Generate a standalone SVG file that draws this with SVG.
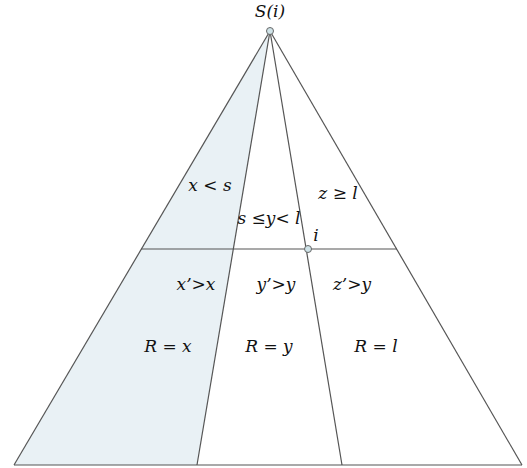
<svg xmlns="http://www.w3.org/2000/svg" width="527" height="468" viewBox="0 0 527 468">
<style>
.ln{stroke:#555;stroke-width:1.2;fill:none}
.t{font-family:"DejaVu Serif","Liberation Serif",serif;font-style:italic;font-size:17px;fill:#111;text-anchor:middle}
.pt{fill:#cfe3e8;stroke:#666;stroke-width:1}
</style>
<rect width="527" height="468" fill="#fff"/>
<g id="shade"><polygon points="270,31 14,465 197,465" fill="#e9f1f5"/></g>
<g id="connectors">
<line class="ln" x1="270" y1="31" x2="14" y2="465"/>
<line class="ln" x1="270" y1="31" x2="522" y2="465"/>
<line class="ln" x1="270" y1="31" x2="197" y2="465"/>
<line class="ln" x1="270" y1="31" x2="342" y2="465"/>
<line class="ln" x1="14" y1="465" x2="522" y2="465"/>
<line class="ln" x1="141" y1="249" x2="397" y2="249"/>
</g>
<g id="apex"><circle class="pt" cx="270" cy="31" r="3.5"/><text class="t" x="270" y="17" font-size="19">S(i)</text></g>
<g id="node-i"><circle class="pt" cx="308" cy="249" r="3.5"/><text class="t" x="316" y="241">i</text></g>
<g id="region-x"><text class="t" x="210" y="191">x &lt; s</text><text class="t" x="196" y="290">x’&gt;x</text><text class="t" x="168" y="352">R = x</text></g>
<g id="region-y"><text class="t" x="269" y="224" font-size="14">s ≤y&lt; l</text><text class="t" x="276" y="290">y’&gt;y</text><text class="t" x="269" y="352">R = y</text></g>
<g id="region-z"><text class="t" x="338" y="199">z ≥ l</text><text class="t" x="352" y="290">z’&gt;y</text><text class="t" x="376" y="352">R = l</text></g>
</svg>
